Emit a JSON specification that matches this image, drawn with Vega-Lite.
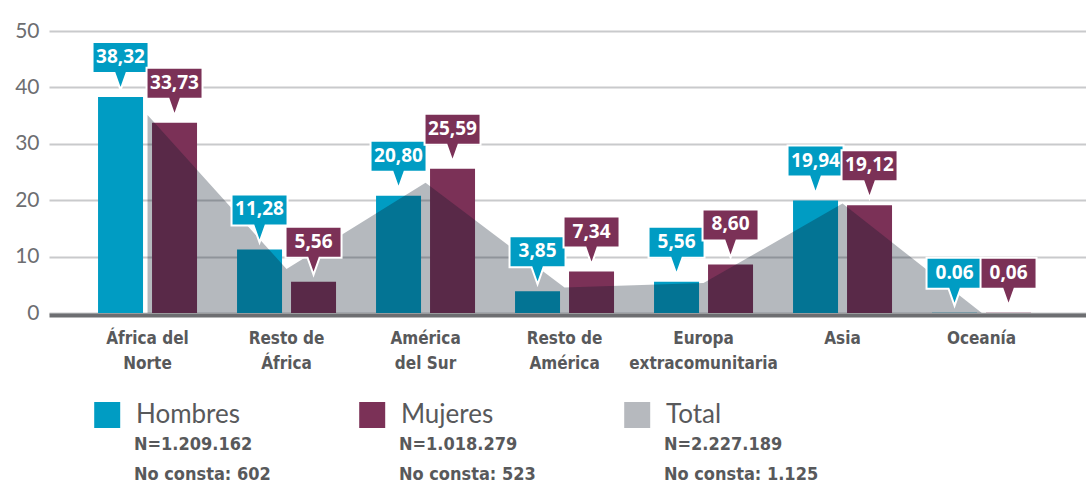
{
  "$schema": "https://vega.github.io/schema/vega-lite/v6.json",
  "padding": {"left": 14, "top": 20, "right": 0, "bottom": 0},
  "background": "white",
  "bounds": "flush",
  "spacing": 102,
  "config": {"view": {"stroke": null}, "font": "Lato"},
  "datasets": {
    "sexos": [
      {"region": "África del|Norte", "sexo": "Hombres", "value": 38.32, "label": "38,32"},
      {"region": "África del|Norte", "sexo": "Mujeres", "value": 33.73, "label": "33,73"},
      {"region": "Resto de|África", "sexo": "Hombres", "value": 11.28, "label": "11,28"},
      {"region": "Resto de|África", "sexo": "Mujeres", "value": 5.56, "label": "5,56"},
      {"region": "América|del Sur", "sexo": "Hombres", "value": 20.80, "label": "20,80"},
      {"region": "América|del Sur", "sexo": "Mujeres", "value": 25.59, "label": "25,59"},
      {"region": "Resto de|América", "sexo": "Hombres", "value": 3.85, "label": "3,85"},
      {"region": "Resto de|América", "sexo": "Mujeres", "value": 7.34, "label": "7,34"},
      {"region": "Europa|extracomunitaria", "sexo": "Hombres", "value": 5.56, "label": "5,56"},
      {"region": "Europa|extracomunitaria", "sexo": "Mujeres", "value": 8.60, "label": "8,60"},
      {"region": "Asia", "sexo": "Hombres", "value": 19.94, "label": "19,94"},
      {"region": "Asia", "sexo": "Mujeres", "value": 19.12, "label": "19,12"},
      {"region": "Oceanía", "sexo": "Hombres", "value": 0.06, "label": "0.06"},
      {"region": "Oceanía", "sexo": "Mujeres", "value": 0.06, "label": "0,06"}
    ],
    "total": [
      {"region": "África del|Norte", "total": 35.1},
      {"region": "Resto de|África", "total": 7.8},
      {"region": "América|del Sur", "total": 23.1},
      {"region": "Resto de|América", "total": 4.5},
      {"region": "Europa|extracomunitaria", "total": 5.3},
      {"region": "Asia", "total": 19.4},
      {"region": "Oceanía", "total": 0.06}
    ],
    "legend": [
      {"serie": "Hombres", "line": "name", "text": "Hombres"},
      {"serie": "Hombres", "line": "n", "text": "N=1.209.162"},
      {"serie": "Hombres", "line": "nc", "text": "No consta: 602"},
      {"serie": "Mujeres", "line": "name", "text": "Mujeres"},
      {"serie": "Mujeres", "line": "n", "text": "N=1.018.279"},
      {"serie": "Mujeres", "line": "nc", "text": "No consta: 523"},
      {"serie": "Total", "line": "name", "text": "Total"},
      {"serie": "Total", "line": "n", "text": "N=2.227.189"},
      {"serie": "Total", "line": "nc", "text": "No consta: 1.125"}
    ]
  },
  "vconcat": [
    {
      "width": 1038,
      "height": 282,
      "encoding": {
        "x": {
          "field": "region", "type": "nominal", "sort": null,
          "scale": {
            "type": "band",
            "domain": ["África del|Norte", "Resto de|África", "América|del Sur", "Resto de|América", "Europa|extracomunitaria", "Asia", "Oceanía"],
            "paddingInner": 0.2878, "paddingOuter": 0.3777, "align": 0.467
          },
          "axis": {
            "title": null, "ticks": false, "domainColor": "#6d6e71", "domainWidth": 4, "offset": 2,
            "labelFont": "DejaVu Sans Condensed", "labelFontWeight": "bold", "labelFontSize": 17,
            "labelColor": "#58595b", "labelLineHeight": 25, "labelPadding": 15, "labelAngle": 0,
            "labelExpr": "split(datum.value, '|')", "labelLimit": 0, "zindex": 1
          }
        },
        "y": {
          "field": "value", "type": "quantitative",
          "scale": {"domain": [0, 50]},
          "axis": {
            "values": [0, 10, 20, 30, 40, 50], "title": null, "domain": false, "ticks": false,
            "labelFontSize": 21, "labelColor": "#6d6e71", "labelPadding": 10, "labelFont": "Lato",
            "gridColor": "#c9cacc", "gridWidth": 2
          }
        }
      },
      "layer": [
        {
          "data": {"name": "sexos"},
          "mark": {"type": "bar"},
          "encoding": {
            "xOffset": {"field": "sexo", "type": "nominal", "scale": {"domain": ["Hombres", "Mujeres"], "paddingInner": 0.1667, "paddingOuter": 0}},
            "color": {"field": "sexo", "type": "nominal", "scale": {"domain": ["Hombres", "Mujeres", "Total"], "range": ["#009cc3", "#7b3157", "#b6b9be"]}, "legend": null}
          }
        },
        {
          "data": {"name": "total"},
          "mark": {"type": "area", "color": "#0a1628", "opacity": 0.3},
          "encoding": {
            "y": {"field": "total", "type": "quantitative"}
          }
        },
        {
          "data": {"name": "sexos"},
          "mark": {
            "type": "point", "filled": true, "opacity": 1, "size": 10000,
            "shape": "M0,-0.14 L-0.12,-0.48 L-0.56,-0.48 L-0.56,-1.1 L0.56,-1.1 L0.56,-0.48 L0.12,-0.48 Z",
            "stroke": "white", "strokeWidth": 2
          },
          "encoding": {
            "xOffset": {"field": "sexo", "type": "nominal"},
            "color": {"field": "sexo", "type": "nominal", "legend": null}
          }
        },
        {
          "data": {"name": "sexos"},
          "mark": {"type": "text", "dy": -40, "baseline": "middle", "align": "center", "font": "Open Sans", "fontWeight": "bold", "fontSize": 19, "color": "white"},
          "encoding": {
            "xOffset": {"field": "sexo", "type": "nominal"},
            "text": {"field": "label"}
          }
        }
      ]
    },
    {
      "width": 1038,
      "height": 60,
      "data": {"name": "legend"},
      "encoding": {
        "x": {"field": "serie", "type": "nominal", "sort": null,
          "scale": {"type": "band", "domain": ["Hombres", "Mujeres", "Total"], "paddingInner": 0, "paddingOuter": 0.4585, "align": 0.185},
          "axis": null, "bandPosition": 0},
        "y": {"field": "line", "type": "nominal", "sort": null,
          "scale": {"type": "point", "domain": ["name", "n", "nc"], "padding": 0}, "axis": null}
      },
      "layer": [
        {
          "transform": [{"filter": "datum.line === 'name'"}],
          "mark": {"type": "square", "size": 676, "opacity": 1, "filled": true},
          "encoding": {
            "x": {"field": "serie", "type": "nominal", "sort": null, "bandPosition": 0.05},
            "color": {"field": "serie", "type": "nominal", "scale": {"domain": ["Hombres", "Mujeres", "Total"], "range": ["#009cc3", "#7b3157", "#b6b9be"]}, "legend": null}
          }
        },
        {
          "transform": [{"filter": "datum.line === 'name'"}],
          "mark": {"type": "text", "align": "left", "baseline": "middle", "dx": 42, "font": "Lato", "fontSize": 26, "color": "#58595b"},
          "encoding": {"text": {"field": "text"}}
        },
        {
          "transform": [{"filter": "datum.line !== 'name'"}],
          "mark": {"type": "text", "align": "left", "baseline": "middle", "dx": 40, "font": "DejaVu Sans Condensed", "fontWeight": "bold", "fontSize": 18, "color": "#58595b"},
          "encoding": {"text": {"field": "text"}}
        }
      ]
    }
  ]
}
